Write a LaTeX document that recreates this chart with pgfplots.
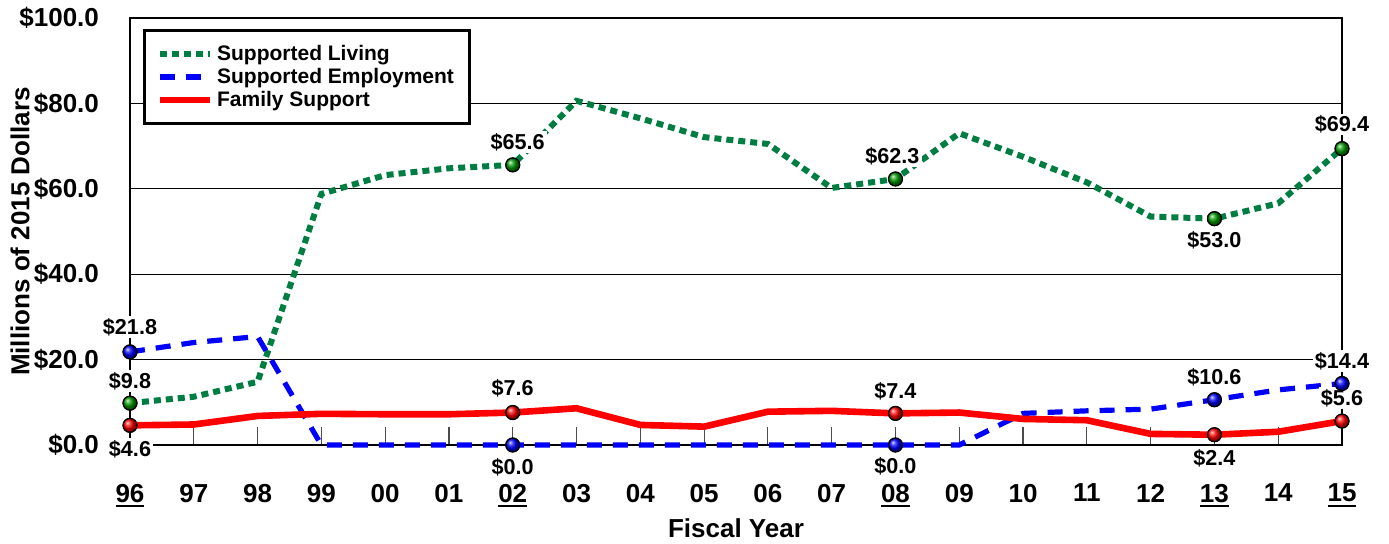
\documentclass[border=0pt]{standalone}
\usepackage{fontspec}
\setmainfont{Liberation Sans}
\usepackage{pgfplots}
\pgfplotsset{compat=1.18}
\definecolor{sgreen}{RGB}{0,125,65}
\newcommand{\ul}[1]{\setbox0\hbox{#1}\leavevmode\rlap{\rule[-2.6pt]{\wd0}{1.3pt}}\box0}
\pgfplotstableread{
x SL SE FS
0 9.8 21.8 4.6
1 11.3 24.0 4.8
2 14.8 25.4 6.8
3 58.8 0.0 7.3
4 63.2 0.0 7.2
5 64.8 0.0 7.2
6 65.6 0.0 7.6
7 80.6 0.0 8.6
8 76.5 0.0 4.7
9 72.1 0.0 4.3
10 70.5 0.0 7.8
11 60.2 0.0 8.0
12 62.3 0.0 7.4
13 73.0 0.0 7.6
14 67.5 7.4 6.1
15 61.5 8.0 5.8
16 53.5 8.4 2.6
17 53.0 10.6 2.4
18 56.6 12.9 3.1
19 69.4 14.4 5.6
}\datatable
\pgfplotstableread{
x SL SE FS
0 9.8 21.8 4.6
6 65.6 0.0 7.6
12 62.3 0.0 7.4
17 53.0 10.6 2.4
19 69.4 14.4 5.6
}\marktable
\begin{document}
\begin{tikzpicture}[lbl/.style={fill=white,inner sep=1pt,font=\bfseries\fontsize{10.8}{12}\selectfont}]
\begin{axis}[
  scale only axis, width=606pt, height=213.5pt,
  xmin=0, xmax=19, ymin=0, ymax=100,
  clip=false,
  font=\bfseries,
  /pgf/number format/assume math mode=true,
  axis line style={line width=1.3pt},
  xtick={0,...,19},
  xticklabels={\ul{96},97,98,99,00,01,\ul{02},03,04,05,06,07,\ul{08},09,10,11,12,\ul{13},14,\ul{15}},
  xtick pos=bottom, xtick align=inside,
  major tick length=9pt,
  xtick style={black!70, line width=0.6pt},
  ytick={0,20,40,60,80,100},
  yticklabels={\$0.0,\$20.0,\$40.0,\$60.0,\$80.0,\$100.0},
  ytick style={draw=none},
  ymajorgrids, grid style={black, line width=0.6pt},
  ticklabel style={font=\bfseries\fontsize{13}{15}\selectfont},
  yticklabel style={xshift=-12pt},
  xticklabel style={yshift=-16pt},
  xlabel={Fiscal Year},
  ylabel={Millions of 2015 Dollars},
  label style={font=\bfseries\fontsize{13}{15}\selectfont},
  xlabel style={at={(axis description cs:0.5,0)}, anchor=center, yshift=-41.5pt},
  ylabel style={at={(axis description cs:0,0.5)}, anchor=center, yshift=55pt},
  legend style={at={(rel axis cs:0,1)}, xshift=6.5pt, yshift=-5.5pt, anchor=north west,
    font=\bfseries\fontsize{10.5}{12}\selectfont, line width=1.5pt, draw=black,
    inner xsep=6pt, inner ysep=6pt, row sep=0pt,
    nodes={inner ysep=1.2pt}},
  legend cell align=left,
  legend image code/.code={\draw[#1] (0pt,0pt) -- (25pt,0pt);},
]
\addplot[sgreen, line width=3pt, dash pattern=on 3.5pt off 2.5pt] table[x=x,y=SL]{\datatable};
\addlegendentry{Supported Living}
\addplot[blue, line width=2.6pt, dash pattern=on 7.5pt off 5.5pt] table[x=x,y=SE]{\datatable};
\addlegendentry{Supported Employment}
\addplot[red, line width=3.3pt] table[x=x,y=FS]{\datatable};
\addlegendentry{Family Support}
\addplot[only marks, mark=ball, mark size=3.5pt, mark options={ball color=green!60!black}, forget plot] table[x=x,y=SL]{\marktable};
\addplot[only marks, mark=ball, mark size=3.5pt, mark options={ball color=blue}, forget plot] table[x=x,y=SE]{\marktable};
\addplot[only marks, mark=ball, mark size=3.5pt, mark options={ball color=red}, forget plot] table[x=x,y=FS]{\marktable};
\addplot[only marks, mark=o, mark size=3.5pt, mark options={black, line width=0.6pt}, forget plot] table[x=x,y=SL]{\marktable};
\addplot[only marks, mark=o, mark size=3.5pt, mark options={black, line width=0.6pt}, forget plot] table[x=x,y=SE]{\marktable};
\addplot[only marks, mark=o, mark size=3.5pt, mark options={black, line width=0.6pt}, forget plot] table[x=x,y=FS]{\marktable};
\node[lbl, yshift=12.5pt] at (axis cs:0,21.8) {\$21.8};
\node[lbl, yshift=11pt] at (axis cs:0,9.8) {\$9.8};
\node[lbl, yshift=-11.75pt] at (axis cs:0,4.6) {\$4.6};
\node[lbl, yshift=11.5pt, xshift=2.5pt] at (axis cs:6,65.6) {\$65.6};
\node[lbl, yshift=12pt] at (axis cs:6,7.6) {\$7.6};
\node[lbl, yshift=-11pt] at (axis cs:6,0) {\$0.0};
\node[lbl, yshift=11.5pt, xshift=-1.5pt] at (axis cs:12,62.3) {\$62.3};
\node[lbl, yshift=11.2pt] at (axis cs:12,7.4) {\$7.4};
\node[lbl, yshift=-10.5pt] at (axis cs:12,0) {\$0.0};
\node[lbl, yshift=-11pt] at (axis cs:17,53.0) {\$53.0};
\node[lbl, yshift=11pt] at (axis cs:17,10.6) {\$10.6};
\node[lbl, yshift=-12pt] at (axis cs:17,2.4) {\$2.4};
\node[lbl, yshift=12pt] at (axis cs:19,69.4) {\$69.4};
\node[lbl, yshift=11.25pt] at (axis cs:19,14.4) {\$14.4};
\node[lbl, yshift=11.5pt] at (axis cs:19,5.6) {\$5.6};
\end{axis}
\pgfresetboundingbox
\path (-65pt,-49.5pt) rectangle (629.5pt,222.5pt);
\end{tikzpicture}
\end{document}
